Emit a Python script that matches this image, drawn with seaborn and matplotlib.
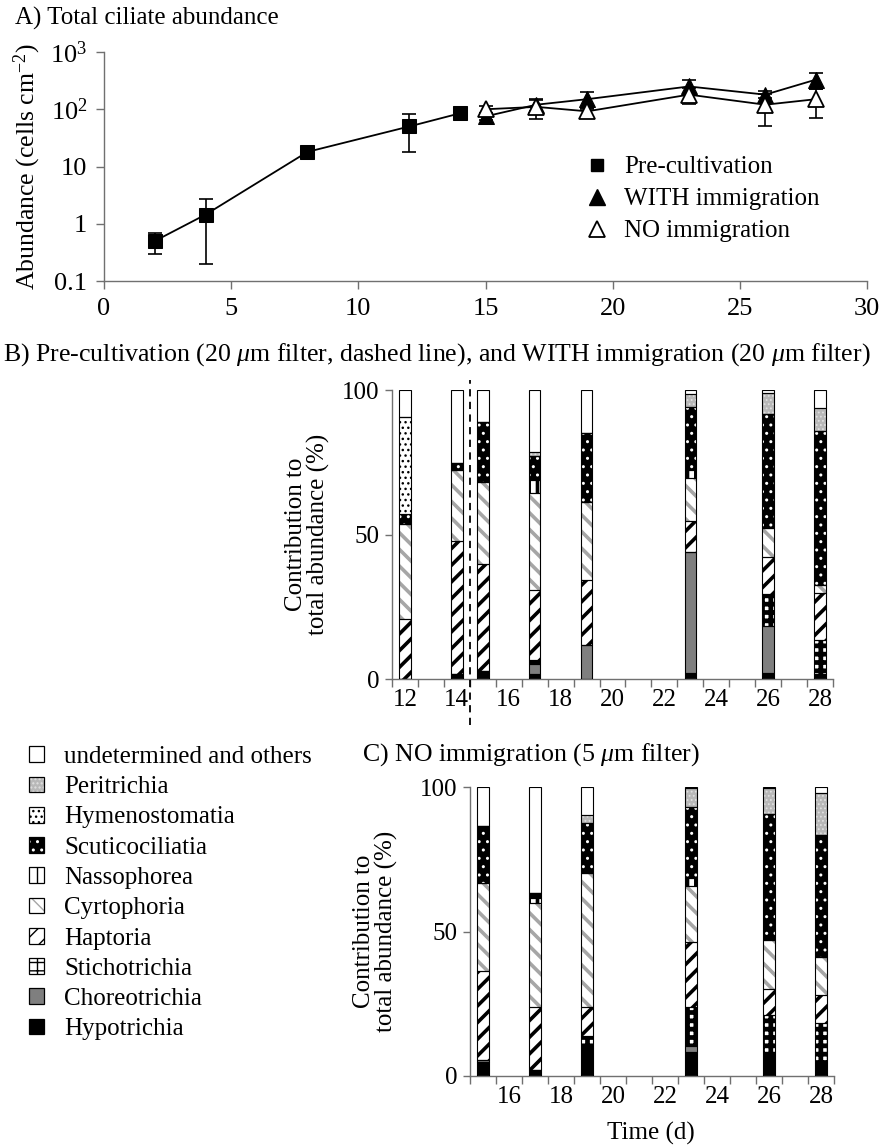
import numpy as np
import pandas as pd
import matplotlib
matplotlib.use("Agg")
import matplotlib.pyplot as plt
from matplotlib.patches import Patch
from matplotlib.lines import Line2D
from matplotlib.legend_handler import HandlerTuple
import seaborn as sns

# ---------------- data ----------------
days_pre = [2, 4, 8, 12, 14]
abund_pre = [0.5, 1.45, 18, 50, 85]
err_pre = [0.2, 1.25, 3, 32, 10]

days_exp = [15, 17, 19, 23, 26, 28]
abund_with = [75, 120, 150, 250, 180, 330]
err_with = [10, 25, 50, 70, 25, 100]
abund_no = [100, 110, 92, 180, 120, 150]
err_no = [15, 42, 15, 55, 68, 80]

taxa = ["Hypotrichia", "Choreotrichia", "Stichotrichia", "Haptoria", "Cyrtophoria",
        "Nassophorea", "Scuticociliatia", "Hymenostomatia", "Peritrichia",
        "undetermined and others"]

days_B = [12, 14, 15, 17, 19, 23, 26, 28]
hypo_B = [0, 1.8, 2.6, 1.8, 0, 2.1, 2.1, 1.8]
chor_B = [0, 0, 0, 3.5, 11.9, 42.0, 16.3, 0]
stich_B = [0, 0, 0, 1.4, 0, 0, 11.1, 11.8]
hapt_B = [20.7, 45.9, 37.1, 24.2, 22.4, 10.7, 12.7, 16.1]
cyrt_B = [33.0, 24.7, 28.6, 33.6, 27.1, 14.7, 10.0, 2.9]
nass_B = [0, 0, 0, 4.4, 0, 2.9, 0, 0]
scut_B = [3.4, 2.3, 20.5, 8.4, 23.6, 21.8, 39.5, 53.3]
hymen_B = [33.5, 0, 0, 0, 0, 0, 0, 0]
perit_B = [0, 0, 0, 1.4, 0, 4.4, 7.4, 7.8]
undet_B = [9.4, 25.3, 11.2, 21.3, 15.0, 1.4, 0.9, 6.3]

days_C = [15, 17, 19, 23, 26, 28]
hypo_C = [5, 2, 9.7, 8.3, 7, 4.5]
chor_C = [0.7, 0, 0.5, 2, 0, 0]
stich_C = [0, 0, 3.6, 13.7, 14, 14]
hapt_C = [30.7, 22, 10.2, 22.5, 9.2, 9.5]
cyrt_C = [30.5, 35.7, 46.1, 19.4, 16.8, 13.3]
nass_C = [0, 1.8, 0, 2.5, 0, 0]
scut_C = [19.6, 1.7, 17.3, 24.8, 43.8, 42.1]
hymen_C = [0, 0, 0, 0, 0, 0]
perit_C = [0, 0, 2.9, 6.3, 8.9, 14.4]
undet_C = [13.5, 36.8, 9.7, 0.5, 0.3, 2.2]

B_values = [hypo_B, chor_B, stich_B, hapt_B, cyrt_B, nass_B, scut_B, hymen_B, perit_B, undet_B]
C_values = [hypo_C, chor_C, stich_C, hapt_C, cyrt_C, nass_C, scut_C, hymen_C, perit_C, undet_C]

# styles: (facecolor, hatch, hatchcolor, hatch linewidth)
styles = {
    "Hypotrichia": ("black", None, None, 1.0),
    "Choreotrichia": ("#7f7f7f", None, None, 1.0),
    "Stichotrichia": ("white", "++", "black", 3.4),
    "Haptoria": ("white", "//", "black", 2.6),
    "Cyrtophoria": ("white", "\\\\", "#a6a6a6", 2.6),
    "Nassophorea": ("white", "||", "black", 2.6),
    "Scuticociliatia": ("black", "..", "white", 1.0),
    "Hymenostomatia": ("white", "...", "black", 1.0),
    "Peritrichia": ("#b8b8b8", "....", "#e0e0e0", 0.8),
    "undetermined and others": ("white", None, None, 1.0),
}

# ---------------- style ----------------
sns.set_theme(style="ticks")
plt.rcParams['font.family'] = ['Liberation Serif', 'DejaVu Serif']
plt.rcParams['mathtext.fontset'] = 'custom'
plt.rcParams['mathtext.rm'] = 'Liberation Serif'
plt.rcParams['mathtext.it'] = 'Liberation Serif:italic'
plt.rcParams['mathtext.bf'] = 'Liberation Serif:bold'
plt.rcParams['text.color'] = 'black'
plt.rcParams['axes.labelcolor'] = 'black'

AXCOL = '#707070'
FS = 18

fig = plt.figure(figsize=(8.82, 11.46), dpi=100)


def style_spines(ax):
    for s in ["top", "right"]:
        ax.spines[s].set_visible(False)
    for s in ["left", "bottom"]:
        ax.spines[s].set_color(AXCOL)
        ax.spines[s].set_linewidth(1.0)


# ---------------- panel A ----------------
axA = fig.add_axes([104 / 882, 1 - 281 / 1146, 763 / 882, 229 / 1146])
style_spines(axA)
axA.set_yscale('log')

df_pre = pd.DataFrame({"day": days_pre, "abund": abund_pre})
df_with = pd.DataFrame({"day": days_exp, "abund": abund_with})
df_no = pd.DataFrame({"day": days_exp, "abund": abund_no})

for d, e in [(df_pre, err_pre), (df_with, err_with), (df_no, err_no)]:
    axA.errorbar(d["day"], d["abund"], yerr=e, fmt='none', ecolor='black',
                 elinewidth=1.2, capsize=5, capthick=1.2, zorder=2)

sns.lineplot(data=df_pre, x="day", y="abund", ax=axA, color='black', lw=1.3,
             marker='s', markersize=10, markeredgecolor='black', zorder=3)
sns.lineplot(data=df_with, x="day", y="abund", ax=axA, color='black', lw=1.3,
             marker='^', markersize=11, markeredgecolor='black', zorder=3)
sns.lineplot(data=df_no, x="day", y="abund", ax=axA, color='black', lw=1.3,
             marker='^', markersize=11, markerfacecolor='white',
             markeredgecolor='black', markeredgewidth=1.3, zorder=4)

axA.set_xlim(0, 30)
axA.set_ylim(0.1, 1000)
axA.set_xticks([0, 5, 10, 15, 20, 25, 30])
axA.set_yticks([0.1, 1, 10, 100, 1000])
axA.set_yticklabels(["0.1", "1", "10", "10$^2$", "10$^3$"])
axA.minorticks_off()
axA.tick_params(axis='both', labelsize=19, length=6, width=1.0, colors=AXCOL,
                labelcolor='black', pad=6)
axA.set_xlabel("")
axA.set_ylabel("Abundance (cells cm$^{-2}$)", fontsize=18.5)
axA.yaxis.set_label_coords(-0.08, 0.5)

legA = [
    Line2D([], [], ls='none', marker='s', ms=9, mfc='black', mec='black'),
    Line2D([], [], ls='none', marker='^', ms=11, mfc='black', mec='black'),
    Line2D([], [], ls='none', marker='^', ms=11, mfc='white', mec='black', mew=1.3),
]
axA.legend(legA, ["Pre-cultivation", "WITH immigration", "NO immigration"],
           loc='upper left', bbox_to_anchor=(0.616, 0.59), frameon=False,
           fontsize=18, handlelength=1.0, handletextpad=0.6, labelspacing=0.38,
           borderaxespad=0)

fig.text(15 / 882, 1 - 18 / 1146, "A) Total ciliate abundance", fontsize=18,
         ha='left', va='center')


# ---------------- stacked bars ----------------
def stacked(ax, days, values):
    bottom = np.zeros(len(days))
    for name, vals in zip(taxa, values):
        fc, hatch, hc, hlw = styles[name]
        vals = np.asarray(vals, dtype=float)
        with plt.rc_context({'hatch.linewidth': hlw}):
            bars = ax.bar(days, vals, bottom=bottom, width=0.44, color=fc,
                          hatch=hatch, edgecolor=hc if hc else fc, linewidth=0,
                          zorder=2)
            for b in bars:
                if hasattr(b, "set_hatch_linewidth"):
                    b.set_hatch_linewidth(hlw)
        ax.bar(days, vals, bottom=bottom, width=0.44, fill=False,
               edgecolor='black', linewidth=0.8, zorder=3)
        bottom = bottom + vals


def bar_axes(ax, lo, hi):
    style_spines(ax)
    ax.set_xlim(lo - 0.5, hi + 0.5)
    ax.set_ylim(0, 100)
    ax.set_xticks(np.arange(lo - 0.5, hi + 1.0, 1.0))
    ax.set_xticklabels([])
    ax.set_xticks([d for d in range(lo, hi + 1) if d % 2 == 0], minor=True)
    ax.set_xticklabels([str(d) for d in range(lo, hi + 1) if d % 2 == 0],
                       minor=True, fontsize=FS)
    ax.tick_params(axis='x', which='major', length=6, width=1.0, colors=AXCOL)
    ax.tick_params(axis='x', which='minor', length=0, pad=7, labelcolor='black')
    ax.set_yticks([0, 50, 100])
    ax.tick_params(axis='y', labelsize=FS, length=5, width=1.0, colors=AXCOL,
                   labelcolor='black', pad=4)
    ax.set_ylabel("Contribution to\ntotal abundance (%)", fontsize=FS,
                  linespacing=1.0)


axB = fig.add_axes([392 / 882, 1 - 679 / 1146, 441 / 882, 289 / 1146])
stacked(axB, days_B, B_values)
bar_axes(axB, 12, 28)
axB.yaxis.set_label_coords(-0.14, 0.5)
axB.axvline(14.5, ymin=-0.16, ymax=1.035, color='black', ls=(0, (4, 3)),
            lw=1.3, clip_on=False, zorder=4)
fig.text(3 / 882, 1 - 355 / 1146,
         r"B) Pre-cultivation (20 $\mu$m filter, dashed line), and WITH immigration (20 $\mu$m filter)",
         fontsize=18.6, ha='left', va='center')

axC = fig.add_axes([470 / 882, 1 - 1076 / 1146, 364 / 882, 289 / 1146])
stacked(axC, days_C, C_values)
bar_axes(axC, 15, 28)
axC.yaxis.set_label_coords(-0.198, 0.5)
fig.text(362 / 882, 1 - 755 / 1146, r"C) NO immigration (5 $\mu$m filter)",
         fontsize=18.6, ha='left', va='center')
fig.text(651 / 882, 1 - 1133 / 1146, "Time (d)", fontsize=FS, ha='center',
         va='center')

# ---------------- taxa legend ----------------
handles = []
for name in taxa[::-1]:
    fc, hatch, hc, hlw = styles[name]
    fill = Patch(facecolor=fc, hatch=hatch, edgecolor=hc if hc else fc, lw=0)
    if hasattr(fill, "set_hatch_linewidth"):
        fill.set_hatch_linewidth(min(hlw, 1.6))
    outline = Patch(fill=False, edgecolor='black', lw=0.9)
    handles.append((fill, outline))
fig.legend(handles, taxa[::-1], loc='upper left',
           bbox_to_anchor=(29 / 882, 1 - 746 / 1146), frameon=False,
           fontsize=FS, handlelength=0.6, handleheight=0.6, handletextpad=0.8,
           labelspacing=0.33, borderaxespad=0, borderpad=0,
           handler_map={tuple: HandlerTuple(ndivide=1, pad=0)})

fig.savefig("out.png", dpi=100)
